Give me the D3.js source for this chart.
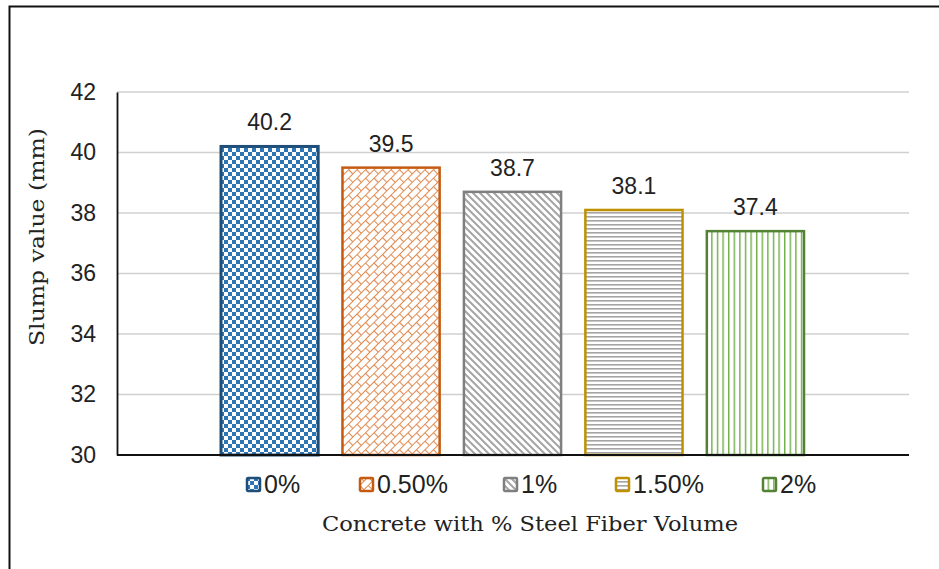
<!DOCTYPE html>
<html><head><meta charset="utf-8">
<script src="https://cdn.jsdelivr.net/npm/d3@7"></script>
<style>body{margin:0;background:#fff}svg{display:block}</style>
</head><body>
<svg id="chart" width="939" height="569"></svg>
<script>
const categories = ["0%", "0.50%", "1%", "1.50%", "2%"];
const values = [40.2, 39.5, 38.7, 38.1, 37.4];
const yTicks = [30, 32, 34, 36, 38, 40, 42];
const strokeColors = ["#1F4E79", "#C55A11", "#7F7F7F", "#BF9000", "#548235"];
const patternColors = ["#2E75B6", "#E08A50", "#A5A5A5", "#A5A5A5", "#70AD47"];
const patternIds = ["pChecker", "pBrick", "pDiag", "pHoriz", "pVert"];

(function () {
const svg = d3.select("#chart");
const defs = svg.append("defs");
const sans = "Liberation Sans, Arial, sans-serif";
const serif = "'DejaVu Serif', 'Liberation Serif', serif";

// checkerboard
let p = defs.append("pattern").attr("id", "pChecker").attr("patternUnits", "userSpaceOnUse").attr("width", 8).attr("height", 8);
p.append("rect").attr("width", 8).attr("height", 8).attr("fill", "#fff");
p.append("rect").attr("width", 4).attr("height", 4).attr("fill", patternColors[0]);
p.append("rect").attr("x", 4).attr("y", 4).attr("width", 4).attr("height", 4).attr("fill", patternColors[0]);

// diagonal brick
p = defs.append("pattern").attr("id", "pBrick").attr("patternUnits", "userSpaceOnUse")
  .attr("width", 12).attr("height", 12).attr("patternTransform", "rotate(-45)");
p.append("rect").attr("width", 12).attr("height", 12).attr("fill", "#fff");
p.append("path").attr("d", "M0,0.5 L12,0.5 M0,6.5 L12,6.5 M0.5,0 L0.5,6 M6.5,6 L6.5,12")
  .attr("stroke", patternColors[1]).attr("stroke-width", 1.1).attr("fill", "none");

// wide downward diagonal
p = defs.append("pattern").attr("id", "pDiag").attr("patternUnits", "userSpaceOnUse").attr("width", 7).attr("height", 7);
p.append("rect").attr("width", 7).attr("height", 7).attr("fill", "#fff");
p.append("path").attr("d", "M0,0 L7,7 M-3.5,3.5 L3.5,10.5 M3.5,-3.5 L10.5,3.5")
  .attr("stroke", patternColors[2]).attr("stroke-width", 2).attr("fill", "none");

// horizontal lines
p = defs.append("pattern").attr("id", "pHoriz").attr("patternUnits", "userSpaceOnUse").attr("width", 6).attr("height", 4);
p.append("rect").attr("width", 6).attr("height", 4).attr("fill", "#fff");
p.append("rect").attr("y", 0).attr("width", 6).attr("height", 1.6).attr("fill", patternColors[3]);

// vertical lines
p = defs.append("pattern").attr("id", "pVert").attr("patternUnits", "userSpaceOnUse").attr("width", 5.6).attr("height", 6);
p.append("rect").attr("width", 5.6).attr("height", 6).attr("fill", "#fff");
p.append("rect").attr("x", 0).attr("width", 1.4).attr("height", 6).attr("fill", patternColors[4]);

// outer border
svg.append("rect").attr("x", 9.5).attr("y", 6.5).attr("width", 940).attr("height", 580)
  .attr("fill", "#fff").attr("stroke", "#111").attr("stroke-width", 2);

const mLeft = 117, mRight = 909, mTop = 92, mBottom = 455;
const y = d3.scaleLinear().domain([30, 42]).range([mBottom, mTop]);
const x = d3.scaleBand().domain(categories).range([221, 804]).paddingInner(0.2).paddingOuter(0);

// gridlines
svg.append("g").selectAll("line").data(yTicks.filter(t => t > 30)).join("line")
  .attr("x1", mLeft).attr("x2", mRight).attr("y1", d => y(d)).attr("y2", d => y(d))
  .attr("stroke", "#D0D0D0").attr("stroke-width", 1.5);

// y axis
const yAxis = svg.append("g").attr("transform", `translate(${mLeft},0)`)
  .call(d3.axisLeft(y).tickValues(yTicks).tickSize(0).tickPadding(21));
yAxis.select(".domain").attr("stroke", "#111").attr("stroke-width", 1.8);
yAxis.selectAll("text").attr("font-family", sans).attr("font-size", 23).attr("fill", "#222");

// bars
svg.append("g").selectAll("rect").data(categories).join("rect")
  .attr("x", d => x(d)).attr("width", x.bandwidth())
  .attr("y", (d, i) => y(values[i])).attr("height", (d, i) => mBottom - y(values[i]))
  .attr("fill", (d, i) => `url(#${patternIds[i]})`)
  .attr("stroke", (d, i) => strokeColors[i]).attr("stroke-width", (d, i) => i === 0 ? 3 : 2.5);

// x axis line
svg.append("line").attr("x1", mLeft).attr("x2", mRight).attr("y1", mBottom).attr("y2", mBottom)
  .attr("stroke", "#111").attr("stroke-width", 1.8);

// value labels
svg.append("g").selectAll("text").data(categories).join("text")
  .attr("x", d => x(d) + x.bandwidth() / 2).attr("y", (d, i) => y(values[i]) - 16)
  .attr("text-anchor", "middle").attr("font-family", sans)
  .attr("font-size", 23).attr("fill", "#222").text((d, i) => values[i].toFixed(1));

// legend
const legendX = [246, 359, 503, 615, 762];
const lg = svg.append("g").selectAll("g").data(categories).join("g")
  .attr("transform", (d, i) => `translate(${legendX[i]},477)`);
lg.append("rect").attr("x", 1).attr("y", 1).attr("width", 13).attr("height", 13)
  .attr("fill", (d, i) => `url(#${patternIds[i]})`)
  .attr("stroke", (d, i) => strokeColors[i]).attr("stroke-width", 2.5).attr("rx", 1);
lg.append("text").attr("x", 18).attr("y", 16).attr("font-family", sans)
  .attr("font-size", 25).attr("fill", "#222").text(d => d);

// axis titles
svg.append("text").attr("x", 322).attr("y", 531)
  .attr("font-family", serif).attr("font-size", 20).attr("fill", "#222")
  .attr("textLength", 416).attr("lengthAdjust", "spacingAndGlyphs")
  .text("Concrete with % Steel Fiber Volume");
svg.append("text").attr("transform", "translate(44,346) rotate(-90)")
  .attr("font-family", serif).attr("font-size", 20).attr("fill", "#222")
  .attr("textLength", 218).attr("lengthAdjust", "spacingAndGlyphs")
  .text("Slump value (mm)");
})();
</script>
</body></html>
